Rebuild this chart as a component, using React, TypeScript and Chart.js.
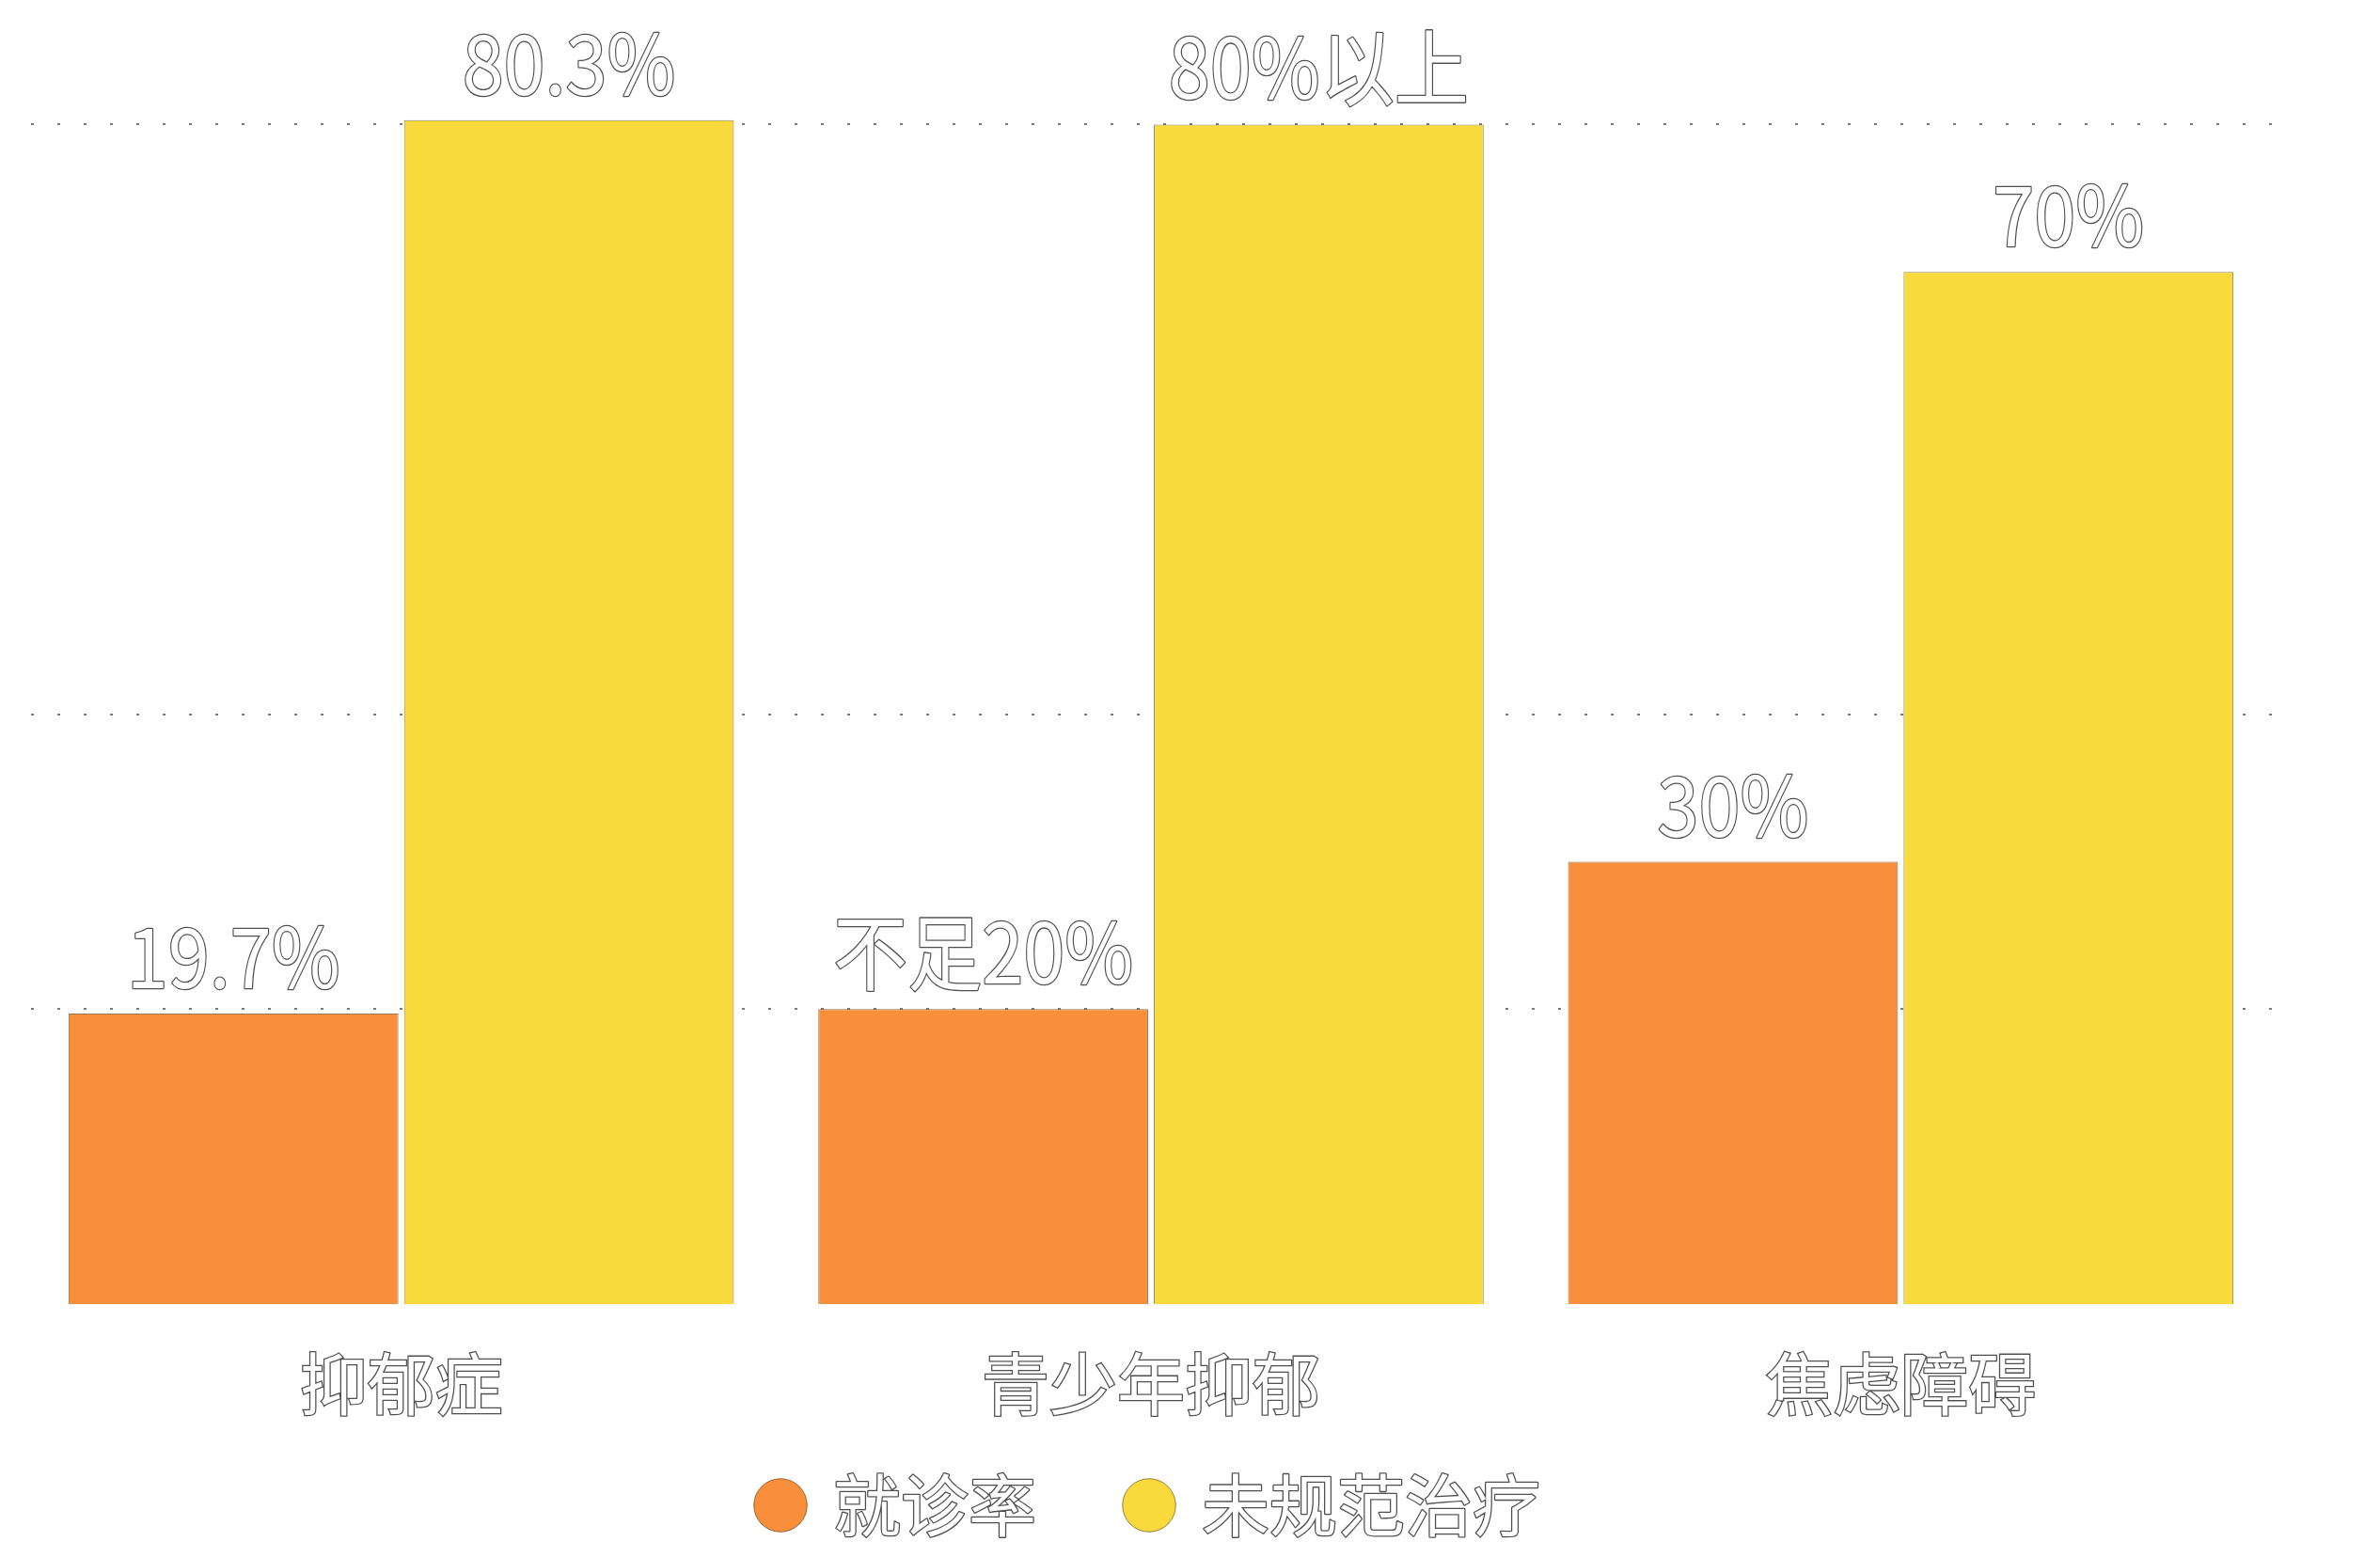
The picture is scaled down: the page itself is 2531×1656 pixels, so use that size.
import React, { useEffect, useRef } from 'react';
import { Chart, registerables } from 'chart.js';

Chart.register(...registerables);

const categories = ['抑郁症', '青少年抑郁', '焦虑障碍'];
const seriesNames = ['就诊率', '未规范治疗'];
const visitRate = [19.7, 20, 30];
const untreatedRate = [80.3, 80, 70];
const visitLabels = ['19.7%', '不足20%', '30%'];
const untreatedLabels = ['80.3%', '80%以上', '70%'];
const gridLevels = [20, 40, 80];
const yMax = 85;

const FONT = '"Noto Sans CJK SC", "Noto Sans", sans-serif';
const OUTLINE = 'rgba(60,60,60,0.9)';
const LEGEND_FONT = 72;
const LEGEND_BOX = 40;

const valueLabelPlugin = {
  id: 'valueLabels',
  afterDatasetsDraw(chart: any) {
    const ctx = chart.ctx;
    const labelSets = [visitLabels, untreatedLabels];
    ctx.save();
    ctx.font = `400 88px ${FONT}`;
    ctx.textAlign = 'center';
    ctx.textBaseline = 'alphabetic';
    ctx.lineJoin = 'round';
    chart.data.datasets.forEach((_ds: any, di: number) => {
      const meta = chart.getDatasetMeta(di);
      meta.data.forEach((el: any, i: number) => {
        const text = labelSets[di][i];
        ctx.save();
        ctx.translate(el.x, el.y - 27);
        ctx.scale(0.9, 1);
        ctx.lineWidth = 2.6;
        ctx.strokeStyle = OUTLINE;
        ctx.strokeText(text, 0, 0);
        ctx.fillStyle = '#ffffff';
        ctx.fillText(text, 0, 0);
        ctx.restore();
      });
    });
    ctx.restore();
  },
};

// let the x-axis labels extend below the (shortened) axis box without being clipped
const axisClipPlugin = {
  id: 'axisClip',
  afterLayout(chart: any) {
    const x = chart.scales.x;
    if (x) x.bottom = x.top + 150;
  },
};

const legendTextPlugin = {
  id: 'legendText',
  afterDraw(chart: any) {
    const legend = chart.legend;
    if (!legend || !legend.legendHitBoxes || !legend.legendItems) return;
    const ctx = chart.ctx;
    ctx.save();
    ctx.font = `400 ${LEGEND_FONT}px ${FONT}`;
    ctx.textAlign = 'left';
    ctx.textBaseline = 'middle';
    ctx.lineJoin = 'round';
    legend.legendItems.forEach((item: any, i: number) => {
      const hb = legend.legendHitBoxes[i];
      if (!hb) return;
      const x = hb.left + LEGEND_BOX + LEGEND_FONT / 2;
      const y = hb.top + Math.max(LEGEND_FONT, LEGEND_BOX) / 2;
      ctx.lineWidth = 2.6;
      ctx.strokeStyle = OUTLINE;
      ctx.strokeText(item.text, x, y);
      ctx.fillStyle = '#ffffff';
      ctx.fillText(item.text, x, y);
    });
    ctx.restore();
  },
};

export default function App() {
  const canvasRef = useRef<HTMLCanvasElement | null>(null);

  useEffect(() => {
    if (!canvasRef.current) return;
    Chart.defaults.font.family = FONT;
    const chart = new Chart(canvasRef.current, {
      type: 'bar',
      data: {
        labels: categories,
        datasets: [
          {
            label: seriesNames[0],
            data: visitRate,
            backgroundColor: '#F98F3B',
            borderColor: 'rgba(110,75,30,0.75)',
            borderWidth: 1,
            borderSkipped: 'start',
            categoryPercentage: 0.895,
            barPercentage: 0.983,
          },
          {
            label: seriesNames[1],
            data: untreatedRate,
            backgroundColor: '#F9DA3C',
            borderColor: 'rgba(110,95,30,0.75)',
            borderWidth: 1,
            borderSkipped: 'start',
            categoryPercentage: 0.895,
            barPercentage: 0.983,
          },
        ],
      },
      options: {
        animation: false,
        responsive: true,
        maintainAspectRatio: false,
        layout: { padding: { left: 28, right: 111, top: 54, bottom: 9 } },
        plugins: {
          tooltip: { enabled: false },
          legend: {
            display: true,
            position: 'bottom',
            align: 'center',
            labels: {
              usePointStyle: true,
              pointStyle: 'circle',
              boxWidth: LEGEND_BOX,
              boxHeight: LEGEND_BOX,
              padding: 100,
              color: 'rgba(0,0,0,0)',
              font: { size: LEGEND_FONT, family: FONT },
            },
          },
        },
        scales: {
          x: {
            grid: { display: false, drawTicks: false },
            border: { display: false },
            ticks: {
              color: '#ffffff',
              textStrokeColor: OUTLINE,
              textStrokeWidth: 2.6,
              font: { size: 72, family: FONT },
              padding: 41,
              maxRotation: 0,
              autoSkip: false,
            },
            afterFit: (scale: any) => {
              scale.height = 78;
            },
          },
          y: {
            min: 0,
            max: yMax,
            afterBuildTicks: (scale: any) => {
              scale.ticks = gridLevels.map((v) => ({ value: v }));
            },
            ticks: { display: false },
            grid: {
              display: true,
              drawTicks: false,
              color: '#7a7a7a',
              lineWidth: 2,
              borderDash: [3, 25],
              borderDashOffset: 23,
            } as any,
            border: { display: false, dash: [3, 25], dashOffset: 23 },
          },
        },
      } as any,
      plugins: [axisClipPlugin, valueLabelPlugin, legendTextPlugin],
    });
    return () => chart.destroy();
  }, []);

  return (
    <div
      style={{
        position: 'fixed',
        left: 0,
        top: 0,
        width: '2531px',
        height: '1656px',
        background: '#ffffff',
      }}
    >
      <canvas ref={canvasRef} />
    </div>
  );
}
